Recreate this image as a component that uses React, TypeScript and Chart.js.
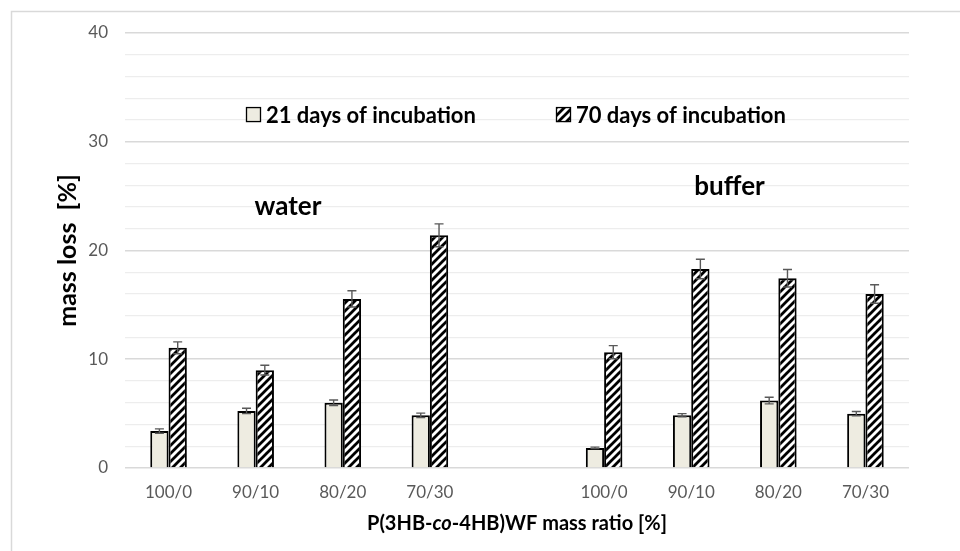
import { useEffect, useRef } from 'react';
import { Chart, registerables } from 'chart.js';

Chart.register(...registerables);

// ---- data ----
const categories = ['100/0', '90/10', '80/20', '70/30', '', '100/0', '90/10', '80/20', '70/30'];
const seriesLabels = ['21 days of incubation', '70 days of incubation'];
const days21 = [3.4, 5.25, 6.0, 4.85, null, 1.85, 4.85, 6.2, 5.0];
const err21 = [0.2, 0.25, 0.25, 0.2, null, 0.07, 0.15, 0.3, 0.2];
const days70 = [11.05, 9.0, 15.55, 21.4, null, 10.65, 18.3, 17.45, 16.0];
const err70 = [0.55, 0.45, 0.75, 1.05, null, 0.6, 0.9, 0.8, 0.85];
const yMin = 0;
const yMax = 40;
const yMinorStep = 2;
const yMajorStep = 10;
const groupLabels = ['water', 'buffer'];
const groupLabelIndex = [1.37, 6.44];
const groupLabelValue = [24.0, 25.9];
const legendValue = 32.5;
const yTitle = 'mass loss  [%]';
const xTitleParts: [string, boolean][] = [
  ['P(3HB-', false],
  ['co', true],
  ['-4HB)WF mass ratio [%]', false],
];

const FONT = 'Lato, "Open Sans", "DejaVu Sans", sans-serif';
const LIGHT = '#EEECE1';

function makeHatch(): CanvasPattern | string {
  const c = document.createElement('canvas');
  c.width = 8;
  c.height = 8;
  const g = c.getContext('2d');
  if (!g) return '#000';
  g.fillStyle = '#fff';
  g.fillRect(0, 0, 8, 8);
  g.strokeStyle = '#000';
  g.lineWidth = 2.8;
  g.beginPath();
  g.moveTo(-6, 6); g.lineTo(6, -6);
  g.moveTo(-2, 10); g.lineTo(10, -2);
  g.moveTo(2, 14); g.lineTo(14, 2);
  g.stroke();
  return g.createPattern(c, 'repeat') || '#000';
}

const backgroundPlugin = {
  id: 'bgBorder',
  beforeDraw(chart: any) {
    const { ctx, width, height } = chart;
    ctx.save();
    ctx.fillStyle = '#fff';
    ctx.fillRect(0, 0, width, height);
    ctx.strokeStyle = '#d9d9d9';
    ctx.lineWidth = 1.5;
    ctx.strokeRect(11.5, 11.5, width + 20, height + 20);
    ctx.restore();
  },
};

const errorBarPlugin = {
  id: 'errorBars',
  afterDatasetsDraw(chart: any) {
    const { ctx } = chart;
    const yScale = chart.scales.y;
    chart.data.datasets.forEach((ds: any, di: number) => {
      const meta = chart.getDatasetMeta(di);
      meta.data.forEach((bar: any, i: number) => {
        const v = ds.data[i];
        const e = ds.errors ? ds.errors[i] : null;
        if (v == null || e == null) return;
        const x = bar.x;
        const yt = yScale.getPixelForValue(v + e);
        const yb = yScale.getPixelForValue(v - e);
        ctx.save();
        ctx.strokeStyle = '#595959';
        ctx.lineWidth = 1.4;
        ctx.beginPath();
        ctx.moveTo(x, yt); ctx.lineTo(x, yb);
        ctx.moveTo(x - 4.5, yt); ctx.lineTo(x + 4.5, yt);
        ctx.moveTo(x - 4.5, yb); ctx.lineTo(x + 4.5, yb);
        ctx.stroke();
        ctx.restore();
      });
    });
  },
};

const textPlugin = {
  id: 'texts',
  afterDraw(chart: any) {
    const { ctx } = chart;
    const xScale = chart.scales.x;
    const yScale = chart.scales.y;
    ctx.save();
    // group labels
    ctx.fillStyle = '#000';
    ctx.font = `bold 26px ${FONT}`;
    ctx.textAlign = 'center';
    ctx.textBaseline = 'middle';
    groupLabels.forEach((t, i) => {
      const i0 = Math.floor(groupLabelIndex[i]);
      const f = groupLabelIndex[i] - i0;
      const x = xScale.getPixelForValue(i0) + f * (xScale.getPixelForValue(i0 + 1) - xScale.getPixelForValue(i0));
      ctx.fillText(t, x, yScale.getPixelForValue(groupLabelValue[i]));
    });

    // legend
    const ly = yScale.getPixelForValue(legendValue);
    const starts = [246, 556];
    ctx.font = `bold 22px ${FONT}`;
    ctx.textAlign = 'left';
    chart.data.datasets.forEach((ds: any, i: number) => {
      const mx = starts[i];
      const s = 15;
      ctx.fillStyle = ds.backgroundColor;
      ctx.fillRect(mx, ly - s / 2, s, s);
      ctx.strokeStyle = '#000';
      ctx.lineWidth = 1.3;
      ctx.strokeRect(mx + 0.5, ly - s / 2 + 0.5, s - 1, s - 1);
      ctx.fillStyle = '#000';
      ctx.fillText(ds.label, mx + s + 5, ly + 1);
    });

    // x title with italic part
    ctx.textAlign = 'left';
    ctx.textBaseline = 'middle';
    const size = 20;
    let total = 0;
    const widths = xTitleParts.map(([t, it]) => {
      ctx.font = `${it ? 'italic ' : ''}bold ${size}px ${FONT}`;
      const w = ctx.measureText(t).width;
      total += w;
      return w;
    });
    const cx = (chart.chartArea.left + chart.chartArea.right) / 2;
    let x = cx - total / 2;
    xTitleParts.forEach(([t, it], i) => {
      ctx.font = `${it ? 'italic ' : ''}bold ${size}px ${FONT}`;
      ctx.fillText(t, x, 524);
      x += widths[i];
    });
    ctx.restore();
  },
};

export default function App() {
  const ref = useRef<HTMLCanvasElement | null>(null);
  useEffect(() => {
    if (!ref.current) return;
    const hatch = makeHatch();
    const chart = new Chart(ref.current, {
      type: 'bar',
      data: {
        labels: categories,
        datasets: [
          {
            label: seriesLabels[0],
            data: days21,
            errors: err21,
            backgroundColor: LIGHT,
            borderColor: '#000',
            borderWidth: 2,
            categoryPercentage: 0.42,
            barPercentage: 1,
          } as any,
          {
            label: seriesLabels[1],
            data: days70,
            errors: err70,
            backgroundColor: hatch,
            borderColor: '#000',
            borderWidth: 2,
            categoryPercentage: 0.42,
            barPercentage: 1,
          } as any,
        ],
      },
      options: {
        animation: false,
        responsive: false,
        devicePixelRatio: 1,
        layout: { padding: { left: 0, right: 51, top: 33, bottom: 0 } },
        plugins: {
          legend: { display: false },
          tooltip: { enabled: false },
        },
        scales: {
          x: {
            grid: { display: false, drawTicks: false },
            border: { display: false },
            ticks: {
              color: '#595959',
              font: { family: FONT, size: 17 },
              padding: 14,
              autoSkip: false,
              maxRotation: 0,
            },
            afterFit: (s: any) => { s.height = 83; },
          },
          y: {
            min: yMin,
            max: yMax,
            border: { display: false },
            grid: {
              drawTicks: false,
              color: (c: any) => (c.tick && c.tick.value % yMajorStep === 0 ? '#d9d9d9' : '#ededed'),
              lineWidth: (c: any) => (c.tick && c.tick.value % yMajorStep === 0 ? 1.6 : 1.2),
            },
            ticks: {
              stepSize: yMinorStep,
              autoSkip: false,
              color: '#595959',
              font: { family: FONT, size: 17 },
              padding: 17,
              callback: (v: any) => (Number(v) % yMajorStep === 0 ? String(v) : ''),
            },
            title: {
              display: true,
              text: yTitle,
              color: '#000',
              font: { family: FONT, size: 25, weight: 'bold' },
              padding: { top: 53, bottom: 0 },
            },
            afterFit: (s: any) => { s.width = 125; },
          },
        },
      },
      plugins: [backgroundPlugin, errorBarPlugin, textPlugin],
    });
    return () => chart.destroy();
  }, []);
  return (
    <div style={{ position: 'absolute', left: 0, top: 0, width: 960, height: 551, background: '#fff' }}>
      <canvas ref={ref} width={960} height={551} />
    </div>
  );
}
